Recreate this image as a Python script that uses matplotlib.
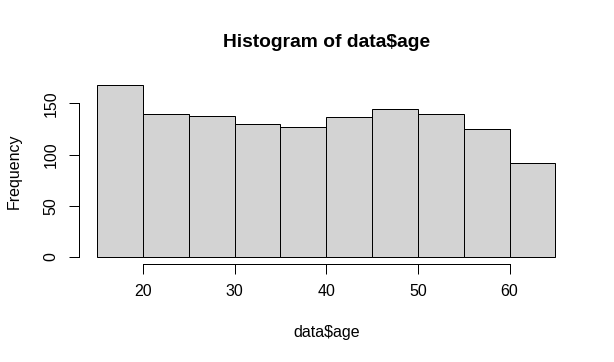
import matplotlib
matplotlib.use("Agg")
import matplotlib.pyplot as plt

plt.rcParams['font.family'] = ['Liberation Sans', 'DejaVu Sans']

# Data
bin_edges = [15, 20, 25, 30, 35, 40, 45, 50, 55, 60, 65]
counts = [168, 140, 138, 130, 127, 137, 144, 140, 125, 92]
x_ticks = [20, 30, 40, 50, 60]
y_ticks = [0, 50, 100, 150]

W, H, DPI = 614, 362, 96
fig = plt.figure(figsize=(W / DPI, H / DPI), dpi=DPI)
left_px, right_px, top_px, bottom_px = 78.7, 573.7, 78.0, 263.9
ax = fig.add_axes([left_px / W, 1 - bottom_px / H,
                   (right_px - left_px) / W, (bottom_px - top_px) / H])

lefts = bin_edges[:-1]
widths = [b - a for a, b in zip(bin_edges[:-1], bin_edges[1:])]
ax.bar(lefts, counts, width=widths, align='edge', color='#D3D3D3',
       edgecolor='black', linewidth=0.75)

xr = bin_edges[-1] - bin_edges[0]
ax.set_xlim(bin_edges[0] - 0.04 * xr, bin_edges[-1] + 0.04 * xr)
ymax = max(counts)
ax.set_ylim(-0.04 * ymax, ymax * 1.04)

for s in ['top', 'right']:
    ax.spines[s].set_visible(False)
ax.spines['left'].set_bounds(y_ticks[0], y_ticks[-1])
ax.spines['bottom'].set_bounds(x_ticks[0], x_ticks[-1])
for s in ['left', 'bottom']:
    ax.spines[s].set_linewidth(0.75)

ax.set_xticks(x_ticks)
ax.set_yticks(y_ticks)
ax.set_yticklabels([str(v) for v in y_ticks], rotation=90, va='center')
ax.tick_params(axis='both', direction='out', length=7.2, width=0.75,
               labelsize=12, colors='black')
ax.tick_params(axis='x', pad=8)
ax.tick_params(axis='y', pad=8)

ax.set_title('Histogram of data$age', fontsize=14.4, fontweight='bold', pad=23.5)
ax.set_xlabel('data$age', fontsize=12, va='baseline')
ax.xaxis.set_label_coords(0.5, -(337.5 - bottom_px) / (bottom_px - top_px))
ax.set_ylabel('Frequency', fontsize=12, va='baseline')
ax.yaxis.set_label_coords(-(left_px - 18.3) / (right_px - left_px), 0.5)

fig.savefig('out.png', dpi=DPI)
